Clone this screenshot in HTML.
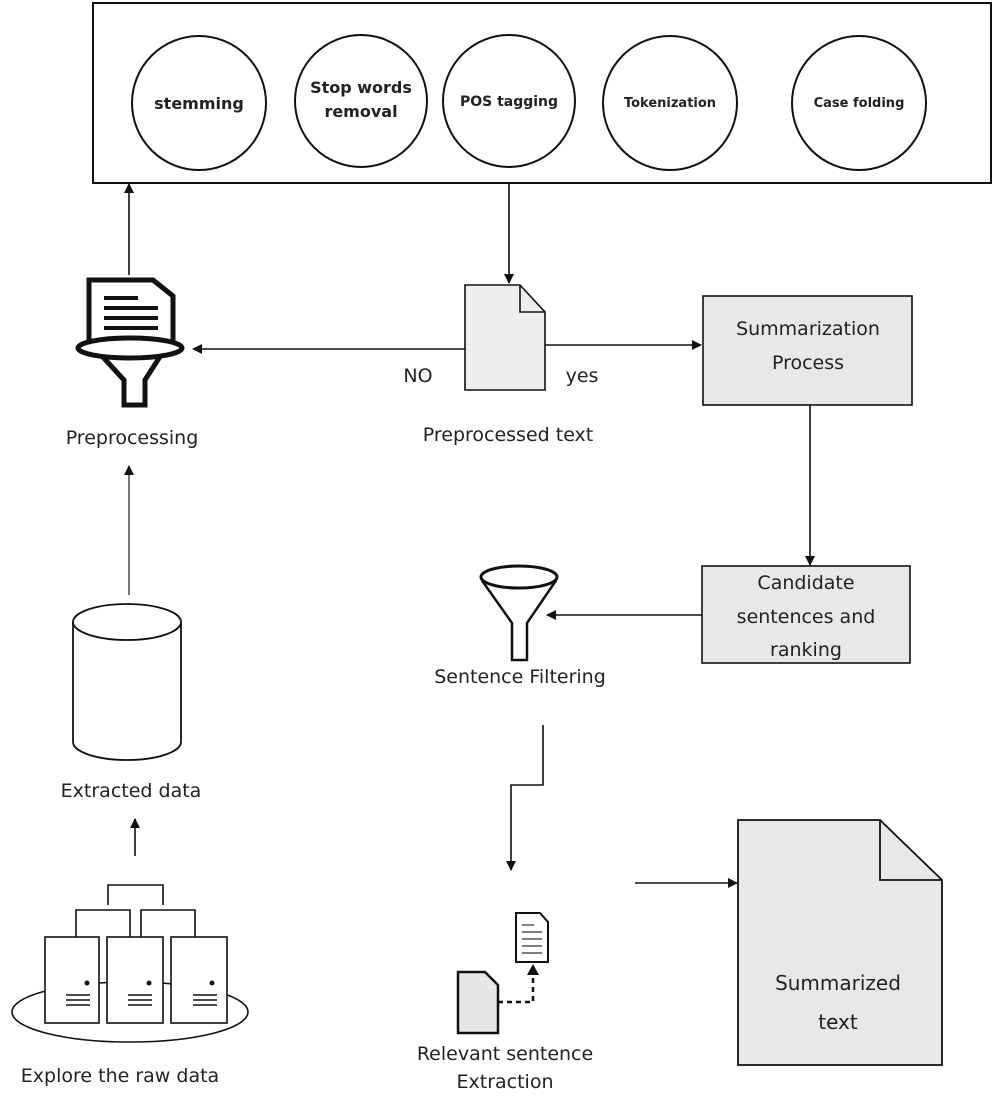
<!DOCTYPE html>
<html><head><meta charset="utf-8"><style>
html,body{margin:0;padding:0;background:#fff}
svg{display:block}
text{font-family:"DejaVu Sans","Liberation Sans",sans-serif;fill:#222}
</style></head><body>
<svg width="999" height="1098" viewBox="0 0 999 1098" xmlns="http://www.w3.org/2000/svg">
<defs>
<marker id="a" markerWidth="10" markerHeight="10" refX="9" refY="5" orient="auto" markerUnits="userSpaceOnUse">
<path d="M0,0 L10,5 L0,10 z" fill="#111"/></marker>
</defs>
<g stroke="#111" fill="none" stroke-width="2">
<rect x="93" y="3" width="898" height="180"/>
<circle cx="199" cy="103" r="67"/>
<circle cx="361" cy="101" r="66"/>
<circle cx="509" cy="101" r="66"/>
<circle cx="670" cy="103" r="67"/>
<circle cx="859" cy="103" r="67"/>
</g>
<g font-size="16" font-weight="bold" text-anchor="middle">
<text x="199" y="109">stemming</text>
<text x="361" y="93">Stop words</text>
<text x="361" y="117">removal</text>
<text x="509" y="106" font-size="14">POS tagging</text>
<text x="670" y="107" font-size="13">Tokenization</text>
<text x="859" y="107" font-size="13">Case folding</text>
</g>
<g stroke="#111" stroke-width="1.6" fill="none">
<line x1="129" y1="275" x2="129" y2="184" marker-end="url(#a)"/>
<line x1="509" y1="183" x2="509" y2="283" marker-end="url(#a)"/>
<line x1="465" y1="349" x2="193" y2="349" marker-end="url(#a)"/>
<line x1="545" y1="345" x2="701" y2="345" marker-end="url(#a)"/>
<line x1="810" y1="405" x2="810" y2="565" marker-end="url(#a)"/>
<line x1="702" y1="615" x2="547" y2="615" marker-end="url(#a)"/>
<polyline points="543,725 543,785 511,785 511,870" marker-end="url(#a)"/>
<line x1="635" y1="883" x2="737" y2="883" marker-end="url(#a)"/>
<line x1="129" y1="595" x2="129" y2="466" marker-end="url(#a)" stroke="#555"/>
<line x1="135" y1="856" x2="135" y2="819" marker-end="url(#a)"/>
</g>
<path d="M465,285 L520,285 L545,312 L545,390 L465,390 Z" fill="#eee" stroke="#111" stroke-width="1.6"/>
<path d="M520,285 L520,312 L545,312" fill="none" stroke="#111" stroke-width="1.6"/>
<g font-size="19" text-anchor="middle">
<text x="418" y="382">NO</text>
<text x="582" y="382">yes</text>
<text x="508" y="441">Preprocessed text</text>
</g>
<rect x="703" y="296" width="209" height="109" fill="#e8e8e8" stroke="#111" stroke-width="1.6"/>
<text x="808" y="335" font-size="19" text-anchor="middle">Summarization</text>
<text x="808" y="369" font-size="19" text-anchor="middle">Process</text>
<rect x="702" y="566" width="208" height="97" fill="#e8e8e8" stroke="#111" stroke-width="1.6"/>
<g font-size="19" text-anchor="middle">
<text x="806" y="589">Candidate</text>
<text x="806" y="623">sentences and</text>
<text x="806" y="656">ranking</text>
</g>
<path d="M483,582 L555,582 L527,623 L527,660 L512,660 L512,623 Z" fill="#fff" stroke="#111" stroke-width="2.5"/>
<ellipse cx="519" cy="577" rx="38" ry="11" fill="#fff" stroke="#111" stroke-width="3"/>
<text x="520" y="683" font-size="19" text-anchor="middle">Sentence Filtering</text>
<g stroke="#111" stroke-width="5" fill="#fff">
<path d="M89,280 L153,280 L173,296 L173,345 L89,345 Z"/>
<path d="M101,355 L161,355 L145,380 L145,405 L124,405 L124,380 Z"/>
</g>
<ellipse cx="130" cy="348" rx="52" ry="10" fill="#fff" stroke="#111" stroke-width="5"/>
<g stroke="#111" stroke-width="4">
<line x1="104" y1="298" x2="138" y2="298"/>
<line x1="104" y1="308" x2="158" y2="308"/>
<line x1="104" y1="318" x2="158" y2="318"/>
<line x1="104" y1="328" x2="158" y2="328"/>
</g>
<text x="132" y="444" font-size="19" text-anchor="middle">Preprocessing</text>
<path d="M73,622 L73,742 A54,18 0 0 0 181,742 L181,622" fill="#fff" stroke="#111" stroke-width="1.8"/>
<ellipse cx="127" cy="622" rx="54" ry="18" fill="#fff" stroke="#111" stroke-width="1.8"/>
<text x="131" y="797" font-size="19" text-anchor="middle">Extracted data</text>
<g stroke="#111" stroke-width="1.6" fill="#fff">
<ellipse cx="130" cy="1012" rx="118" ry="30"/>
<polyline points="108,905 108,885 163,885 163,905" fill="none"/>
<polyline points="76,937 76,910 130,910 130,937" fill="none"/>
<polyline points="141,937 141,910 195,910 195,937" fill="none"/>
<rect x="45" y="937" width="54" height="86"/>
<rect x="107" y="937" width="56" height="86"/>
<rect x="171" y="937" width="56" height="86"/>
</g>
<g stroke="#111" stroke-width="1.4">
<line x1="66" y1="995" x2="90" y2="995"/><line x1="66" y1="1000" x2="90" y2="1000"/><line x1="66" y1="1005" x2="90" y2="1005"/>
<line x1="128" y1="995" x2="152" y2="995"/><line x1="128" y1="1000" x2="152" y2="1000"/><line x1="128" y1="1005" x2="152" y2="1005"/>
<line x1="193" y1="995" x2="217" y2="995"/><line x1="193" y1="1000" x2="217" y2="1000"/><line x1="193" y1="1005" x2="217" y2="1005"/>
</g>
<circle cx="87" cy="983" r="2.5" fill="#111"/><circle cx="149" cy="983" r="2.5" fill="#111"/><circle cx="212" cy="983" r="2.5" fill="#111"/>
<text x="120" y="1082" font-size="19" text-anchor="middle">Explore the raw data</text>
<path d="M516,913 L540,913 L548,922 L548,962 L516,962 Z" fill="#fff" stroke="#111" stroke-width="2"/>
<g stroke="#555" stroke-width="1.5"><line x1="522" y1="925" x2="534" y2="925"/><line x1="522" y1="932" x2="542" y2="932"/><line x1="522" y1="939" x2="542" y2="939"/><line x1="522" y1="946" x2="542" y2="946"/><line x1="522" y1="953" x2="542" y2="953"/></g>
<path d="M458,972 L485,972 L498,985 L498,1033 L458,1033 Z" fill="#e6e6e6" stroke="#111" stroke-width="2.5"/>
<polyline points="498,1002 533,1002 533,972" fill="none" stroke="#111" stroke-width="2.5" stroke-dasharray="5,4"/>
<path d="M527,975 L533,964 L539,975 Z" fill="#111"/>
<text x="505" y="1060" font-size="19" text-anchor="middle">Relevant sentence</text>
<text x="505" y="1088" font-size="19" text-anchor="middle">Extraction</text>
<path d="M738,820 L880,820 L942,880 L942,1065 L738,1065 Z" fill="#e8e8e8" stroke="#111" stroke-width="1.8"/>
<path d="M880,820 L880,880 L942,880" fill="none" stroke="#111" stroke-width="1.8"/>
<text x="838" y="990" font-size="20" text-anchor="middle">Summarized</text>
<text x="838" y="1029" font-size="20" text-anchor="middle">text</text>
</svg>
</body></html>
